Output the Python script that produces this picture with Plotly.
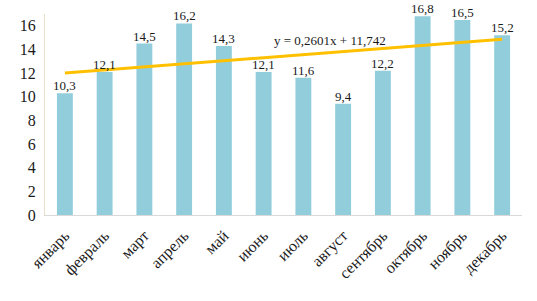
import numpy as np
import plotly.graph_objects as go

months = ["январь", "февраль", "март", "апрель", "май", "июнь",
          "июль", "август", "сентябрь", "октябрь", "ноябрь", "декабрь"]
values = [10.3, 12.1, 14.5, 16.2, 14.3, 12.1, 11.6, 9.4, 12.2, 16.8, 16.5, 15.2]

xs = np.arange(1, len(values) + 1)
slope, intercept = np.polyfit(xs, values, 1)
trend = slope * xs + intercept
eq_text = "y = " + f"{slope:.4f}".replace(".", ",") + "x + " + f"{intercept:.3f}".replace(".", ",")

SERIF = "Liberation Serif, DejaVu Serif, serif"
TXT = "#1a1a1a"

fig = go.Figure()
fig.add_trace(go.Bar(
    x=months, y=values, marker=dict(color="#92CDDC", line=dict(width=0)),
    hoverinfo="x+y",
))
fig.add_trace(go.Scatter(
    x=months, y=trend, mode="lines", line=dict(color="#FFC000", width=3),
    hoverinfo="skip",
))
for m, v in zip(months, values):
    fig.add_annotation(x=m, y=v, xref="x", yref="y", text=f"{v:.1f}".replace(".", ","),
                       showarrow=False, yanchor="bottom", yshift=-2,
                       font=dict(family=SERIF, size=13, color=TXT))
fig.add_annotation(x=6.67, y=14.75, xref="x", yref="y", text=eq_text, showarrow=False,
                   font=dict(family=SERIF, size=13, color=TXT),
                   xanchor="center", yanchor="middle")

fig.update_layout(
    width=537, height=301, showlegend=False,
    plot_bgcolor="white", paper_bgcolor="white",
    margin=dict(l=45, r=15, t=14, b=86),
    bargap=0.6,
    font=dict(family=SERIF, size=14, color=TXT),
    xaxis=dict(showline=True, linecolor="#D9D9D9", linewidth=1, tickangle=-45,
               ticks="", showgrid=False, tickfont=dict(size=16), ticklabelstandoff=4),
    yaxis=dict(range=[0, 17], dtick=2, showline=True, linecolor="#E5DFCC", linewidth=1,
               showgrid=False, ticks="", zeroline=False, tickfont=dict(size=16),
               ticklabelstandoff=5),
)
fig.write_html("out.html", config={"displayModeBar": False},
               post_script="document.body.style.margin='0';document.body.style.overflow='hidden';")
